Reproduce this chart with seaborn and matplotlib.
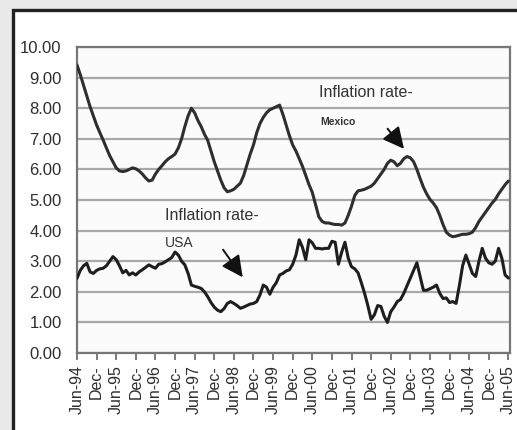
import numpy as np
import pandas as pd
import matplotlib
matplotlib.use("Agg")
import matplotlib.pyplot as plt
from matplotlib.patches import Rectangle
import seaborn as sns

# Monthly inflation rates, Jun-94 .. Jun-05 (133 months)
mexico = [9.41, 9.10, 8.75, 8.40, 8.05, 7.75, 7.45, 7.20, 6.96, 6.70,
          6.45, 6.25, 6.05, 5.95, 5.93, 5.95, 6.00, 6.05, 6.02, 5.95,
          5.85, 5.72, 5.62, 5.65, 5.85, 6.00, 6.12, 6.25, 6.35, 6.42,
          6.50, 6.70, 7.00, 7.40, 7.75, 8.00, 7.85, 7.60, 7.40, 7.15,
          6.95, 6.60, 6.25, 5.95, 5.65, 5.40, 5.27, 5.30, 5.35, 5.45,
          5.55, 5.80, 6.15, 6.50, 6.80, 7.20, 7.50, 7.70, 7.85, 7.95,
          8.00, 8.05, 8.10, 7.80, 7.45, 7.10, 6.80, 6.60, 6.35, 6.10,
          5.80, 5.50, 5.25, 4.85, 4.45, 4.30, 4.25, 4.25, 4.22, 4.20,
          4.20, 4.18, 4.25, 4.50, 4.80, 5.15, 5.30, 5.32, 5.35, 5.40,
          5.45, 5.55, 5.70, 5.85, 6.00, 6.20, 6.30, 6.25, 6.12, 6.20,
          6.35, 6.42, 6.38, 6.25, 6.00, 5.70, 5.42, 5.20, 5.02, 4.90,
          4.75, 4.50, 4.20, 3.95, 3.85, 3.80, 3.82, 3.85, 3.88, 3.88,
          3.90, 3.95, 4.10, 4.30, 4.45, 4.60, 4.75, 4.90, 5.02, 5.20,
          5.35, 5.50, 5.62]
usa = [2.44, 2.70, 2.85, 2.93, 2.65, 2.60, 2.70, 2.75, 2.77, 2.85,
       3.00, 3.15, 3.05, 2.85, 2.62, 2.70, 2.55, 2.62, 2.55, 2.65,
       2.72, 2.80, 2.88, 2.82, 2.77, 2.90, 2.92, 2.98, 3.05, 3.12,
       3.30, 3.20, 3.00, 2.88, 2.60, 2.22, 2.18, 2.15, 2.11, 2.00,
       1.84, 1.65, 1.50, 1.40, 1.35, 1.45, 1.62, 1.68, 1.62, 1.55,
       1.46, 1.50, 1.55, 1.60, 1.62, 1.68, 1.90, 2.22, 2.15, 1.92,
       2.15, 2.30, 2.55, 2.60, 2.68, 2.72, 2.90, 3.20, 3.70, 3.45,
       3.05, 3.70, 3.60, 3.42, 3.42, 3.40, 3.42, 3.42, 3.65, 3.62,
       2.90, 3.30, 3.62, 3.10, 2.82, 2.75, 2.62, 2.30, 1.95, 1.55,
       1.10, 1.25, 1.55, 1.52, 1.20, 1.00, 1.35, 1.50, 1.68, 1.75,
       1.95, 2.20, 2.45, 2.70, 2.95, 2.50, 2.05, 2.05, 2.10, 2.15,
       2.22, 1.95, 1.78, 1.80, 1.65, 1.68, 1.62, 2.20, 2.85, 3.20,
       2.90, 2.60, 2.50, 3.00, 3.42, 3.10, 2.95, 2.90, 3.00, 3.42,
       3.10, 2.55, 2.45]

tick_labels = ["Jun-94", "Dec-", "Jun-95", "Dec-", "Jun-96", "Dec-", "Jun-97",
               "Dec-", "Jun-98", "Dec-", "Jun-99", "Dec-", "Jun-00", "Dec-",
               "Jun-01", "Dec-", "Jun-02", "Dec-", "Jun-03", "Dec-", "Jun-04",
               "Dec-", "Jun-05"]
y_ticks = [0, 1, 2, 3, 4, 5, 6, 7, 8, 9, 10]

months = np.arange(len(mexico))
df = pd.DataFrame({"month": np.concatenate([months, months]),
                   "rate": mexico + usa,
                   "series": ["Mexico"] * len(mexico) + ["USA"] * len(usa)})

sns.set_style("white")
plt.rcParams["font.family"] = ["Liberation Sans", "DejaVu Sans"]

fig = plt.figure(figsize=(5.17, 4.30), dpi=100)
fig.patch.set_facecolor("#e9e9ea")
# white panel with dark border
panel = Rectangle((13 / 517, -0.05), 1.2, 1 - 10 / 430 + 0.05,
                  transform=fig.transFigure, facecolor="white",
                  edgecolor="#222222", linewidth=2.4, zorder=-5)
fig.patches.append(panel)

ax = fig.add_axes([77 / 517, 1 - 353 / 430, (510 - 77) / 517, (353 - 47) / 430])
ax.set_zorder(2)
ax.set_facecolor("#fbfbfb")

sns.lineplot(data=df, x="month", y="rate", hue="series",
             palette={"Mexico": "#2e2e2e", "USA": "#1e1e1e"},
             linewidth=2.2, legend=False, ax=ax, zorder=3)

ax.set_xlim(0, 132.5)
ax.set_ylim(0, 10)
ax.set_yticks(y_ticks)
ax.set_yticklabels([f"{v:.2f}" for v in y_ticks], fontsize=12, color="#2e2e2e")
ax.set_xticks(np.arange(0, 133, 6))
ax.set_xticklabels(tick_labels, rotation=90, fontsize=11.5, color="#2e2e2e")
ax.tick_params(axis="y", length=0, pad=11)
ax.tick_params(axis="x", length=5, width=1.2, color="#666666", pad=4,
               direction="out", bottom=True)
ax.set_xlabel("")
ax.set_ylabel("")
ax.grid(axis="y", color="#a8a8a8", linewidth=1.6, zorder=0)
ax.grid(axis="x", visible=False)
for s in ax.spines.values():
    s.set_color("#777777")
    s.set_linewidth(1.6)

ax.text(74, 8.5, "Inflation rate-", fontsize=11.5, color="#333333", va="center")
ax.text(74.5, 7.55, "Mexico", fontsize=7.5, fontweight="bold",
        color="#333333", va="center")
ax.annotate("", xy=(100.6, 6.6), xytext=(94.5, 7.4),
            arrowprops=dict(arrowstyle="-|>,head_length=1.3,head_width=0.65",
                            color="#111111", lw=1.4))
ax.text(26.8, 4.5, "Inflation rate-", fontsize=11.5, color="#333333", va="center")
ax.text(27, 3.6, "USA", fontsize=10, color="#333333", va="center")
ax.annotate("", xy=(51.2, 2.4), xytext=(44.2, 3.45),
            arrowprops=dict(arrowstyle="-|>,head_length=1.3,head_width=0.65",
                            color="#111111", lw=1.4))

fig.savefig("out.png", dpi=100, facecolor=fig.get_facecolor())
